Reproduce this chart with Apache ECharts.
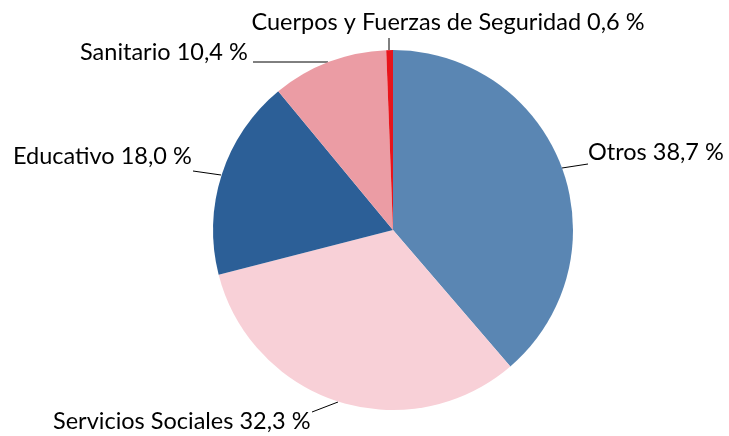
<!DOCTYPE html>
<html><head><meta charset="utf-8">
<script src="https://cdn.jsdelivr.net/npm/echarts@6/dist/echarts.min.js"></script>
<style>html,body{margin:0;padding:0;background:#fff}#c{width:729px;height:436px}</style>
</head><body><div id="c"></div>
<script>
const categories = ['Otros', 'Servicios Sociales', 'Educativo', 'Sanitario', 'Cuerpos y Fuerzas de Seguridad'];
const values = [38.7, 32.3, 18.0, 10.4, 0.6];
const colors = ['#5a86b3', '#f8d0d7', '#2c5f97', '#eb9ca4', '#e8141b'];

// label placement (text anchor + leader line), styling only
const labelPlace = [
  {x: 588, y: 152, align: 'left',   line: [[562, 168], [588, 164]]},
  {x: 53,  y: 421, align: 'left',   line: [[338, 402], [312, 412]]},
  {x: 13,  y: 156, align: 'left',   line: [[221, 175], [193, 171]]},
  {x: 80,  y: 52,  align: 'left',   line: [[328, 62], [253, 62]]},
  {x: 448, y: 22,  align: 'center', line: [[389, 50], [389, 38]]}
];

const chart = echarts.init(document.getElementById('c'), null, {renderer: 'canvas'});
chart.setOption({
  animation: false,
  series: [{
    type: 'pie',
    center: [393, 230],
    radius: 180,
    startAngle: 90,
    clockwise: true,
    data: categories.map((n, i) => ({name: n, value: values[i], itemStyle: {color: colors[i]}})),
    label: {
      show: true,
      position: 'outside',
      fontFamily: 'Lato',
      fontSize: 23.5,
      color: '#000',
      overflow: 'none',
      width: 500,
      formatter: p => p.name + ' ' + p.value.toFixed(1).replace('.', ',') + ' %'
    },
    labelLine: {show: true, length: 10, length2: 0, lineStyle: {color: '#000', width: 1}},
    labelLayout: function (params) {
      const L = labelPlace[params.dataIndex];
      return {x: L.x, y: L.y, align: L.align, verticalAlign: 'middle', labelLinePoints: L.line};
    },
    emphasis: {disabled: true}
  }]
});
</script></body></html>
